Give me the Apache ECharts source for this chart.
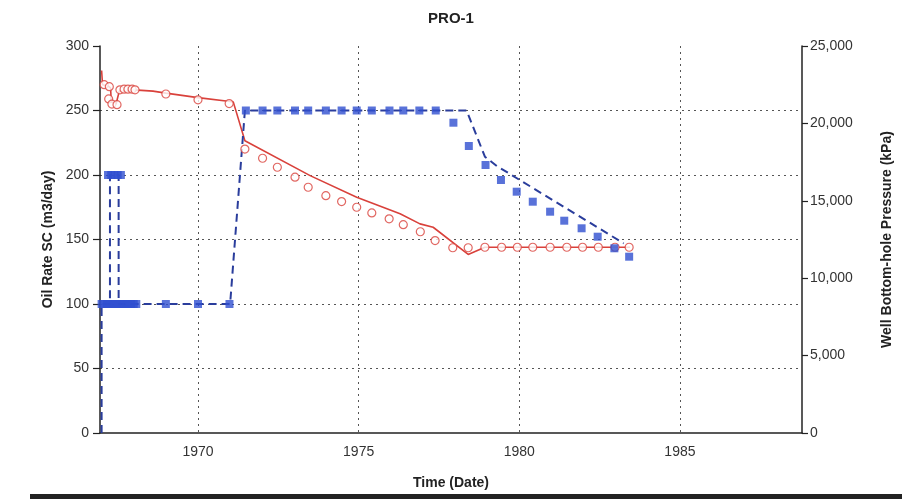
<!DOCTYPE html>
<html>
<head>
<meta charset="utf-8">
<script src="https://cdn.jsdelivr.net/npm/echarts@6/dist/echarts.min.js"></script>
<style>
html,body{margin:0;padding:0;background:#fff;}
#c{width:902px;height:500px;}
</style>
</head>
<body>
<div id="c"></div>
<script>
// ---- data (years as decimal dates) ----
const xTickYears = [1970, 1975, 1980, 1985];

// Simulated oil rate (m3/day)
const simOilYears  = [1967.0, 1967.03, 1967.2, 1967.28, 1967.3, 1967.45, 1967.55, 1968.0, 1968.6, 1969.0, 1970.0, 1971.0, 1971.1, 1971.46, 1973.49, 1974.94, 1976.29, 1976.91, 1977.32, 1978.41, 1978.93, 1983.45];
const simOilValues = [281, 270, 269, 267.5, 256.7, 255, 265, 266, 265, 263.5, 260, 257, 256.5, 226.5, 199.5, 182.7, 169.9, 162.1, 159.5, 138.4, 144, 144];

// Observed oil rate (m3/day)
const obsOilYears  = [1967.08, 1967.24, 1967.22, 1967.32, 1967.48, 1967.57, 1967.7, 1967.82, 1967.95, 1968.04, 1969.0, 1970.0, 1970.97,
  1971.46, 1972.01, 1972.47, 1973.02, 1973.43, 1973.98, 1974.47, 1974.94, 1975.41, 1975.95, 1976.39, 1976.92, 1977.38, 1977.93,
  1978.41, 1978.93, 1979.45, 1979.94, 1980.42, 1980.96, 1981.48, 1981.97, 1982.46, 1982.98, 1983.42];
const obsOilValues = [270, 268.5, 259, 255, 254.5, 266, 266.5, 266.5, 266.5, 266, 262.8, 258.3, 255.4,
  220.1, 213, 206, 198.3, 190.5, 184, 179.4, 175, 170.6, 166, 161.5, 156, 149.2, 143.6,
  143.6, 144, 144, 144, 144, 144, 144, 144, 144, 144, 144];

// Simulated well bottom-hole pressure (kPa)
const simBhpYears  = [1967.0, 1967.0, 1967.26, 1967.26, 1967.53, 1967.53, 1971.0, 1971.46, 1978.36, 1978.93, 1979.3, 1983.25];
const simBhpValues = [0, 8333, 8333, 16667, 16667, 8333, 8333, 20833, 20833, 17850, 17250, 12250];

// Observed well bottom-hole pressure (kPa)
const obsBhpYears  = [1967.0, 1967.08, 1967.17, 1967.25, 1967.33, 1967.42, 1967.5, 1967.58, 1967.67, 1967.75, 1967.83, 1967.92, 1968.0, 1968.08,
  1967.2, 1967.3, 1967.4, 1967.5, 1967.6,
  1969.0, 1970.0, 1970.98,
  1971.49, 1972.01, 1972.47, 1973.02, 1973.43, 1973.98, 1974.47, 1974.94, 1975.41, 1975.96, 1976.39, 1976.89, 1977.4,
  1977.95, 1978.43, 1978.95, 1979.43, 1979.92, 1980.42, 1980.96, 1981.4, 1981.94, 1982.44, 1982.96, 1983.42];
const obsBhpValues = [8333, 8333, 8333, 8333, 8333, 8333, 8333, 8333, 8333, 8333, 8333, 8333, 8333, 8333,
  16667, 16667, 16667, 16667, 16667,
  8333, 8333, 8333,
  20833, 20833, 20833, 20833, 20833, 20833, 20833, 20833, 20833, 20833, 20833, 20833, 20833,
  20045, 18540, 17313, 16344, 15588, 14942, 14296, 13715, 13224, 12681, 11932, 11389];

const pairs = (xs, ys) => xs.map((x, i) => [x, ys[i]]);

const chart = echarts.init(document.getElementById('c'), null, {renderer: 'canvas'});
const font = 'Liberation Sans, Arial, sans-serif';
const gridStyle = {color: '#555', type: [2, 4], width: 1};

chart.setOption({
  animation: false,
  backgroundColor: '#fff',
  title: {
    text: 'PRO-1', left: 'center', top: 6,
    textStyle: {fontFamily: font, fontSize: 15, fontWeight: 'bold', color: '#222'}
  },
  grid: {left: 100, right: 100, top: 46, bottom: 67, containLabel: false},
  xAxis: {
    type: 'value', min: 1966.95, max: 1988.8,
    name: 'Time (Date)', nameLocation: 'middle', nameGap: 43,
    nameTextStyle: {fontFamily: font, fontSize: 14, fontWeight: 'bold', color: '#222'},
    axisLine: {show: true, onZero: false, lineStyle: {color: '#222', width: 1.5}},
    axisTick: {show: false, customValues: xTickYears},
    axisLabel: {customValues: xTickYears, formatter: v => String(v), margin: 12,
      fontFamily: font, fontSize: 14, color: '#333'},
    splitLine: {show: true, lineStyle: gridStyle}
  },
  yAxis: [{
    type: 'value', min: 0, max: 300, interval: 50, position: 'left',
    name: 'Oil Rate SC (m3/day)', nameLocation: 'middle', nameGap: 45, nameRotate: 90,
    nameTextStyle: {fontFamily: font, fontSize: 14, fontWeight: 'bold', color: '#222'},
    axisLine: {show: true, lineStyle: {color: '#222', width: 1.5}},
    axisTick: {show: true, length: 7, lineStyle: {color: '#222', width: 1.2}},
    axisLabel: {margin: 11, fontFamily: font, fontSize: 14, color: '#333'},
    splitLine: {show: true, showMinLine: false, showMaxLine: false, lineStyle: gridStyle}
  }, {
    type: 'value', min: 0, max: 25000, interval: 5000, position: 'right',
    name: 'Well Bottom-hole Pressure (kPa)', nameLocation: 'middle', nameGap: 78, nameRotate: 90,
    nameTextStyle: {fontFamily: font, fontSize: 14, fontWeight: 'bold', color: '#222'},
    axisLine: {show: true, lineStyle: {color: '#222', width: 1.5}},
    axisTick: {show: true, length: 6, lineStyle: {color: '#222', width: 1.2}},
    axisLabel: {margin: 8, fontFamily: font, fontSize: 14, color: '#333'},
    splitLine: {show: false}
  }],
  graphic: [{
    type: 'rect', left: 30, top: 494, shape: {width: 872, height: 5},
    style: {fill: '#222'}, silent: true
  }],
  series: [{
    name: 'Oil Rate SC (sim)', type: 'line', yAxisIndex: 0,
    data: pairs(simOilYears, simOilValues), showSymbol: false, symbol: 'none',
    lineStyle: {color: '#d9413b', width: 1.6}, z: 3
  }, {
    name: 'Oil Rate SC (obs)', type: 'scatter', yAxisIndex: 0,
    data: pairs(obsOilYears, obsOilValues), symbol: 'circle', symbolSize: 8,
    itemStyle: {color: '#fff', borderColor: '#d9413b', borderWidth: 1.2}, z: 4
  }, {
    name: 'BHP (sim)', type: 'line', yAxisIndex: 1,
    data: pairs(simBhpYears, simBhpValues), showSymbol: false, symbol: 'none',
    lineStyle: {color: '#2a3d9c', width: 2, type: [8, 5]}, z: 3
  }, {
    name: 'BHP (obs)', type: 'scatter', yAxisIndex: 1,
    data: pairs(obsBhpYears, obsBhpValues), symbol: 'rect', symbolSize: 8,
    itemStyle: {color: '#2f4fcf'}, z: 5
  }]
});
</script>
</body>
</html>
